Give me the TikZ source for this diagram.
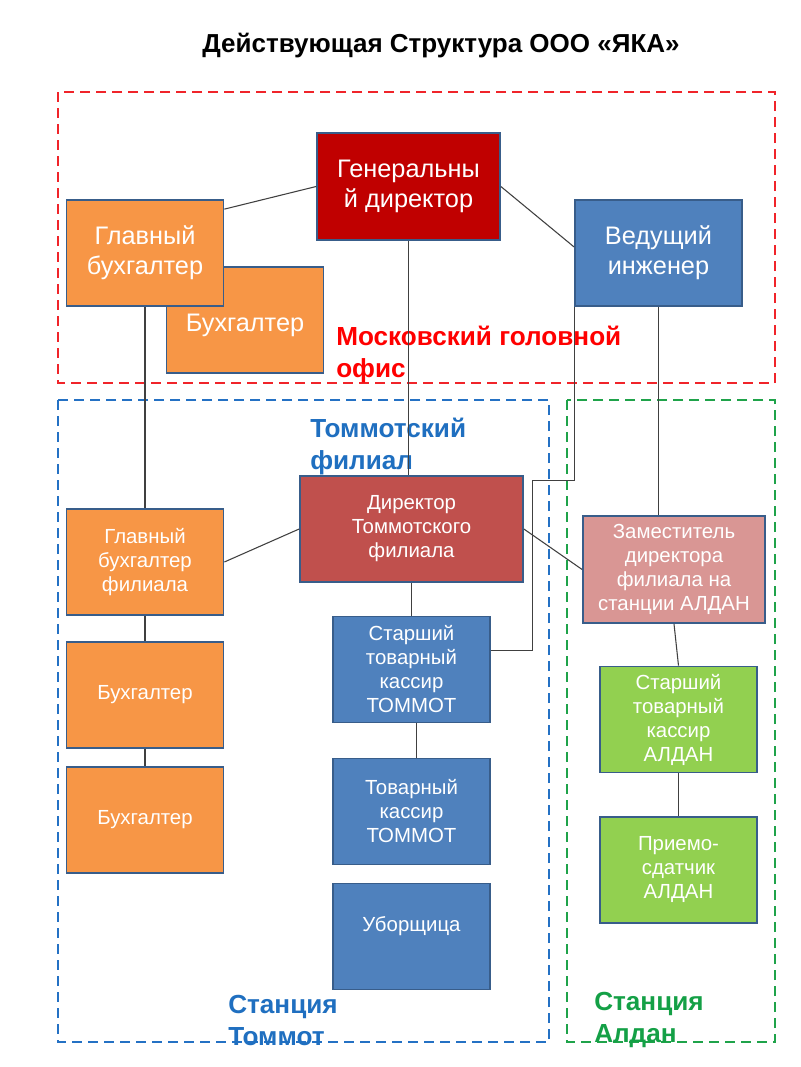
\documentclass[tikz,border=0pt]{standalone}
\usepackage{fontspec}
\setmainfont{Liberation Sans}
\usetikzlibrary{calc}
\definecolor{cgen}{HTML}{C00000}
\definecolor{corange}{HTML}{F79646}
\definecolor{cblue}{HTML}{4F81BD}
\definecolor{cdt}{HTML}{C0504D}
\definecolor{czam}{HTML}{D99694}
\definecolor{cgreen}{HTML}{92D050}
\definecolor{cborder}{HTML}{385D8A}
\definecolor{dred}{HTML}{F0242A}
\definecolor{dblue}{HTML}{2471C4}
\definecolor{dgreen}{HTML}{1FA34A}
\definecolor{lblue}{HTML}{1F6FC0}
\definecolor{lgreen}{HTML}{14A046}
\definecolor{conn}{HTML}{404040}
\tikzset{
  box/.style={draw=cborder, line width=1.3pt, text=white, align=center, inner sep=2pt,
    font=\fontsize{15.3}{18}\selectfont, minimum width=117.75pt, minimum height=79.5pt},
  bigbox/.style={box, font=\fontsize{19}{22.5}\selectfont},
  region/.style={line width=2.1pt, dash pattern=on 7.5pt off 4.5pt},
  lab/.style={anchor=west, align=left, font=\fontsize{19.6}{24}\selectfont\bfseries, inner sep=0pt},
  link/.style={draw=conn, line width=0.8pt}
}
\begin{document}
\begin{tikzpicture}[x=0.75pt,y=-0.75pt]
\useasboundingbox (0,0) rectangle (800,1067);
\fill[white] (0,0) rectangle (800,1067);

% title
\node[font=\fontsize{19.5}{23}\selectfont\bfseries] (title) at (441,46) {Действующая Структура ООО «ЯКА»};

% dashed regions
\draw[region, dred] (58,92) rectangle (775,383);
\draw[region, dblue] (58,400) rectangle (549,1042);
\draw[region, dgreen] (567,400) rectangle (775,1042);

% boxes
\node[bigbox, fill=corange] (b0) at (245,320) {\\[-2pt]Бухгалтер};
\node[bigbox, fill=cgen, minimum width=137.25pt, minimum height=80.25pt] (gen) at (408.5,186.5) {Генеральны\\й директор};
\node[bigbox, fill=corange] (gb) at (145,253) {Главный\\бухгалтер};
\node[bigbox, fill=cblue, minimum width=125.25pt] (ved) at (658.5,253) {Ведущий\\инженер};

\node[box, fill=cdt, minimum width=167.25pt] (dt) at (411.5,529) {Директор\\Томмотского\\филиала};
\node[box, fill=corange] (gbf) at (145,562) {Главный\\бухгалтер\\филиала};
\node[box, fill=corange] (b1) at (145,695) {Бухгалтер};
\node[box, fill=corange] (b2) at (145,820) {Бухгалтер};
\node[box, fill=cblue] (st) at (411.5,669.5) {Старший\\товарный\\кассир\\ТОММОТ};
\node[box, fill=cblue] (tk) at (411.5,811.5) {Товарный\\кассир\\ТОММОТ};
\node[box, fill=cblue] (ub) at (411.5,936.5) {Уборщица\\~};
\node[box, fill=czam, minimum width=136.5pt, minimum height=80.25pt] (zam) at (674,569.5) {Заместитель\\директора\\филиала на\\станции АЛДАН};
\node[box, fill=cgreen] (sa) at (678.5,719.5) {Старший\\товарный\\кассир\\АЛДАН};
\node[box, fill=cgreen] (pr) at (678.5,870) {Приемо-\\сдатчик\\АЛДАН};

% labels
\node[lab, text=red] (lmos) at (336,354) {Московский головной\\офис};
\node[lab, text=lblue] (ltom) at (310,446) {Томмотский\\филиал};
\node[lab, text=lblue] (lst) at (228,1020) {Станция\\Томмот};
\node[lab, text=lgreen] (lal) at (594,1020) {Станция\\Алдан};

% connectors
\draw[link] (gen.west) -- ([yshift=-7.5pt]gb.north east);
\draw[link] (gen.east) -- ([yshift=4.5pt]ved.west);
\draw[link] (gen.south) -- (gen.south |- dt.north);
\draw[link] (gb.south) -- (gbf.north);
\draw[link] (ved.south) -- (ved.south |- zam.north);
\draw[link] (ved.south west) -- ++(0,174) -- ++(-42,0) |- ([yshift=14.6pt]st.east);
\draw[link] (dt.west) -- (gbf.east);
\draw[link] (dt.east) -- (zam.west);
\draw[link] (dt.south) -- (st.north);
\draw[link] ([xshift=4pt]st.south) -- ([xshift=4pt]tk.north);
\draw[link] (gbf.south) -- (b1.north);
\draw[link] (b1.south) -- (b2.north);
\draw[link] (zam.south) -- (sa.north);
\draw[link] (sa.south) -- (pr.north);
\end{tikzpicture}
\end{document}
